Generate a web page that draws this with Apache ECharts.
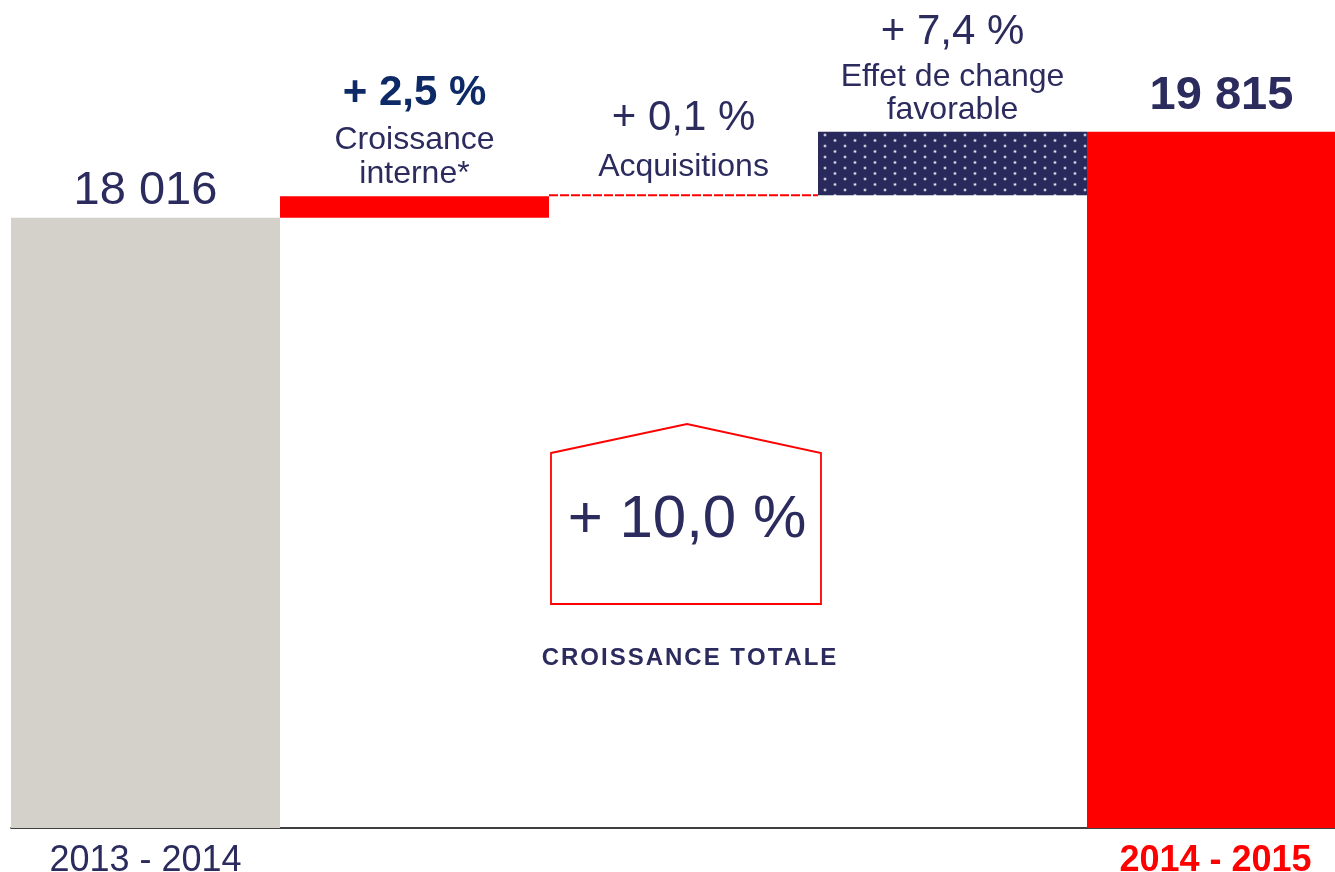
<!DOCTYPE html>
<html>
<head>
<meta charset="utf-8">
<script src="https://cdn.jsdelivr.net/npm/echarts@6/dist/echarts.min.js"></script>
<style>
html,body{margin:0;padding:0;background:#fff;}
#chart{width:1335px;height:872px;}
</style>
</head>
<body>
<div id="chart"></div>
<script>
// ---- data ----
var categories = ['2013 - 2014', 'Croissance interne', 'Acquisitions', 'Effet de change', '2014 - 2015'];
var deltas = [18016, 450, 18, 1331, 19815];          // bar heights (totals for first/last, increments between)
var isTotal = [true, false, false, false, true];
var headLabels = ['18 016', '+ 2,5 %', '+ 0,1 %', '+ 7,4 %', '19 815'];
var subLabels = ['', 'Croissance\ninterne*', 'Acquisitions', 'Effet de change\nfavorable', ''];
var totalGrowthLabel = '+ 10,0 %';
var totalGrowthTitle = 'CROISSANCE TOTALE';

// ---- derived waterfall bases ----
var bases = [];
var running = 0;
for (var i = 0; i < deltas.length; i++) {
  if (isTotal[i]) { bases.push(0); running = deltas[i]; }
  else { bases.push(running); running += deltas[i]; }
}

var NAVY = '#2b2b5e';
var RED = '#ff0000';

// dotted pattern for FX bar
var pat = document.createElement('canvas');
pat.width = 20; pat.height = 11;
var pc = pat.getContext('2d');
pc.fillStyle = '#29295b';
pc.fillRect(0, 0, 20, 11);
function dot(x, y) {
  pc.fillStyle = 'rgba(190,190,215,0.5)';
  pc.beginPath(); pc.arc(x, y, 1.8, 0, Math.PI * 2); pc.fill();
  pc.fillStyle = 'rgba(230,230,240,1)';
  pc.beginPath(); pc.arc(x, y, 1.0, 0, Math.PI * 2); pc.fill();
}
dot(5, 3); dot(15, 8.5);

var itemColors = ['#d4d1cb', RED, 'rgba(0,0,0,0)', {image: pat, repeat: 'repeat'}, RED];
var labelStyles = [
  {distance: 3, rich: {a: {fontSize: 47, color: NAVY, lineHeight: 48}}},
  {distance: 5, rich: {a: {fontSize: 42, fontWeight: 'bold', color: '#0d2a66', lineHeight: 60}, b: {fontSize: 32, color: NAVY, lineHeight: 34}}},
  {distance: 12, rich: {a: {fontSize: 42, color: NAVY, lineHeight: 66}, b: {fontSize: 32, color: NAVY, lineHeight: 32}}},
  {distance: 5, rich: {a: {fontSize: 42, color: NAVY, lineHeight: 56}, b: {fontSize: 32, color: NAVY, lineHeight: 33}}},
  {distance: 12, rich: {a: {fontSize: 47, fontWeight: 'bold', color: NAVY, lineHeight: 48}}}
];

var valueData = deltas.map(function (v, i) {
  var txt = '{a|' + headLabels[i] + '}';
  if (subLabels[i]) {
    txt += subLabels[i].split('\n').map(function (s) { return '\n{b|' + s + '}'; }).join('');
  }
  return {
    value: v,
    itemStyle: {color: itemColors[i]},
    label: {
      show: true, position: 'top', distance: labelStyles[i].distance,
      formatter: txt, rich: labelStyles[i].rich,
      fontFamily: 'Liberation Sans, Arial, sans-serif'
    }
  };
});

function spaced(s) { return s.split('').join('\u200A'); }

var chart = echarts.init(document.getElementById('chart'), null, {renderer: 'canvas'});
chart.setOption({
  animation: false,
  backgroundColor: '#ffffff',
  textStyle: {fontFamily: 'Liberation Sans, Arial, sans-serif'},
  grid: {left: 11, top: 0, bottom: 44, width: 1345, containLabel: false, outerBoundsMode: 'none'},
  xAxis: {
    type: 'category',
    data: categories,
    axisLine: {show: true, lineStyle: {color: '#000000', width: 1.6}},
    axisTick: {show: false},
    axisLabel: {
      interval: 0, margin: 15,
      formatter: function (v, idx) {
        if (idx === 0) return '{first|' + v + '}';
        if (idx === categories.length - 1) return '{last|' + v + '}';
        return '';
      },
      rich: {
        first: {fontSize: 36, color: NAVY, fontFamily: 'Liberation Sans, Arial, sans-serif'},
        last: {fontSize: 36, color: RED, fontWeight: 'bold', padding: [0, 12, 0, 0], fontFamily: 'Liberation Sans, Arial, sans-serif'}
      }
    },
    splitLine: {show: false}
  },
  yAxis: {
    type: 'value', min: 5250, max: 22570, show: false, splitLine: {show: false}
  },
  series: [
    {
      type: 'bar', stack: 'wf', barCategoryGap: '0%',
      itemStyle: {color: 'rgba(0,0,0,0)'},
      emphasis: {disabled: true},
      data: bases
    },
    {
      type: 'bar', stack: 'wf', barCategoryGap: '0%',
      emphasis: {disabled: true},
      data: valueData
    },
    {
      type: 'custom',
      silent: true,
      data: [[2, bases[2] + deltas[2]]],
      renderItem: function (params, api) {
        var pt = api.coord([api.value(0), api.value(1)]);
        var bw = api.size([1, 0])[0];
        return {
          type: 'line',
          shape: {x1: pt[0] - bw / 2, y1: pt[1], x2: pt[0] + bw / 2, y2: pt[1]},
          style: {stroke: RED, lineWidth: 2, lineDash: [9, 2]}
        };
      }
    }
  ],
  graphic: [
    {
      type: 'polygon',
      shape: {points: [[551, 453], [687, 424], [821, 453], [821, 604], [551, 604]]},
      style: {fill: 'none', stroke: RED, lineWidth: 1.8}
    },
    {
      type: 'text', x: 687, y: 520,
      style: {text: totalGrowthLabel, font: '60px "Liberation Sans", Arial, sans-serif', fill: NAVY, align: 'center', verticalAlign: 'middle'}
    },
    {
      type: 'text', x: 689, y: 658,
      style: {text: spaced(totalGrowthTitle), font: 'bold 24px "Liberation Sans", Arial, sans-serif', fill: NAVY, align: 'center', verticalAlign: 'middle'}
    }
  ]
});
</script>
</body>
</html>
